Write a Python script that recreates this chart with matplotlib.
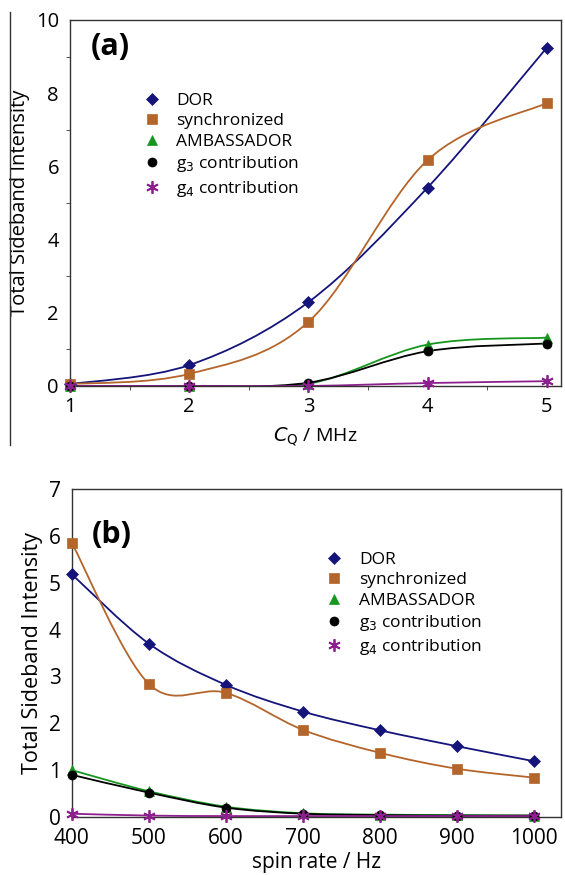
"""Total sideband intensity vs C_Q (a) and vs spin rate (b)."""

import matplotlib.pyplot as plt
from matplotlib.lines import Line2D
from matplotlib.path import Path
from matplotlib.patches import PathPatch
from matplotlib.ticker import MultipleLocator

plt.rcParams["font.family"] = ["Open Sans", "DejaVu Sans"]

# Panel (a): intensity against C_Q
cq_mhz = [1, 2, 3, 4, 5]
a_dor = [0.05, 0.57, 2.29, 5.42, 9.24]
a_sync = [0.05, 0.33, 1.75, 6.17, 7.73]
a_amb = [0.0, 0.0, 0.06, 1.13, 1.32]
a_g3 = [0.0, 0.0, 0.09, 0.95, 1.16]
a_g4 = [0.0, 0.0, 0.0, 0.08, 0.13]

# Panel (b): intensity against spin rate
spin_hz = [400, 500, 600, 700, 800, 900, 1000]
b_dor = [5.18, 3.70, 2.82, 2.25, 1.85, 1.51, 1.19]
b_sync = [5.85, 2.84, 2.65, 1.86, 1.37, 1.03, 0.84]
b_amb = [1.00, 0.55, 0.22, 0.08, 0.05, 0.04, 0.03]
b_g3 = [0.90, 0.52, 0.20, 0.07, 0.04, 0.03, 0.03]
b_g4 = [0.07, 0.03, 0.02, 0.02, 0.02, 0.02, 0.02]

labels = ["DOR", "synchronized", "AMBASSADOR",
          r"g$_3$ contribution", r"g$_4$ contribution"]
colors = ["#14147a", "#b4652a", "#16961e", "#000000", "#8e1f8e"]
markers = ["D", "s", "^", "o", (6, 2, 0)]
msizes = [6.5, 7.5, 7, 6.5, 9]


def smooth_line(ax, xs, ys, color):
    # Excel-style smoothed line: cubic Bezier through the data points
    pts = list(zip(xs, ys))
    n = len(pts)
    verts = [pts[0]]
    codes = [Path.MOVETO]
    for i in range(n - 1):
        p0 = pts[i - 1] if i > 0 else pts[i]
        p1 = pts[i]
        p2 = pts[i + 1]
        p3 = pts[i + 2] if i + 2 < n else pts[i + 1]
        c1 = (p1[0] + (p2[0] - p0[0]) / 6, p1[1] + (p2[1] - p0[1]) / 6)
        c2 = (p2[0] - (p3[0] - p1[0]) / 6, p2[1] - (p3[1] - p1[1]) / 6)
        verts += [c1, c2, p2]
        codes += [Path.CURVE4] * 3
    patch = PathPatch(Path(verts, codes), fill=False, edgecolor=color,
                      lw=1.3, transform=ax.transData, zorder=2)
    ax.add_patch(patch)


def draw_panel(ax, xs, series):
    for ys, col, mk, ms, lab in zip(series, colors, markers, msizes, labels):
        smooth_line(ax, xs, ys, col)
        mew = 1.3 if isinstance(mk, tuple) else 0.5
        ax.plot(xs, ys, ls="none", marker=mk, ms=ms, color=col, mew=mew,
                label=lab, zorder=3, clip_on=False)
    for s in ax.spines.values():
        s.set_color("#333333")
        s.set_linewidth(1.0)


fig = plt.figure(figsize=(5.65, 8.75), dpi=100)

# (a)
ax1 = fig.add_axes([0.124, 0.5589, 0.869, 0.4183])
draw_panel(ax1, cq_mhz, [a_dor, a_sync, a_amb, a_g3, a_g4])
ax1.set_xlim(1, 5.12)
ax1.set_ylim(0, 10)
ax1.set_xticks(cq_mhz)
ax1.set_yticks([0, 2, 4, 6, 8, 10])
ax1.xaxis.set_minor_locator(MultipleLocator(0.5))
ax1.yaxis.set_minor_locator(MultipleLocator(1))
ax1.tick_params(which="major", length=0, labelsize=14.5, pad=8)
ax1.tick_params(which="minor", length=3, direction="out", color="#333333")
ax1.set_xlabel(r"$C_{\mathrm{Q}}$ / MHz", fontsize=14, labelpad=6)
ax1.set_ylabel("Total Sideband Intensity", fontsize=14.5, labelpad=4)
ax1.text(0.043, 0.925, "(a)", transform=ax1.transAxes, fontsize=22,
         fontweight="bold", va="center", ha="left")
ax1.legend(loc="upper left", bbox_to_anchor=(0.135, 0.82), frameon=False,
           fontsize=12.5, handlelength=1.0, handletextpad=0.9,
           labelspacing=0.25, borderaxespad=0)

# (b)
ax2 = fig.add_axes([0.127, 0.0663, 0.866, 0.3749])
draw_panel(ax2, spin_hz, [b_dor, b_sync, b_amb, b_g3, b_g4])
ax2.set_xlim(400, 1035)
ax2.set_ylim(0, 7)
ax2.set_xticks(spin_hz)
ax2.set_yticks(range(8))
ax2.tick_params(which="major", length=0, labelsize=15, pad=8)
ax2.set_xlabel("spin rate / Hz", fontsize=15, labelpad=2)
ax2.set_ylabel("Total Sideband Intensity", fontsize=15.5, labelpad=4)
ax2.text(0.04, 0.86, "(b)", transform=ax2.transAxes, fontsize=22,
         fontweight="bold", va="center", ha="left")
ax2.legend(loc="upper left", bbox_to_anchor=(0.505, 0.83), frameon=False,
           fontsize=12.5, handlelength=1.0, handletextpad=0.9,
           labelspacing=0.25, borderaxespad=0)

# thin border line on the left of panel (a)
fig.add_artist(Line2D([10 / 565, 10 / 565], [1 - 12 / 875, 1 - 445 / 875],
                      color="#333333", lw=1.0))

fig.savefig("out.png", dpi=100)
